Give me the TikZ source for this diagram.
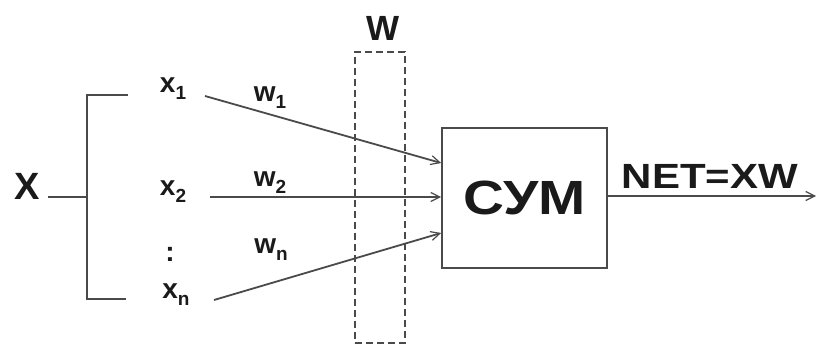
\documentclass[tikz,border=0pt]{standalone}
\usepackage{fontspec}
\setmainfont{Liberation Sans}
\usetikzlibrary{arrows.meta}
\definecolor{ln}{HTML}{4A4A4A}
\definecolor{tx}{HTML}{1A1A1A}
\newcommand\sbs[1]{\raisebox{-0.25em}{\fontsize{19}{19}\selectfont #1}}
\tikzset{
  lbl/.style={inner sep=0pt, text=tx, font=\fontsize{28}{28}\selectfont\bfseries},
  big/.style={inner sep=0pt, text=tx, font=\fontsize{35}{35}\selectfont\bfseries},
  wire/.style={draw=ln, line width=1.8pt},
  arr/.style={wire, -{Straight Barb[length=9pt,width=9pt,line width=1.2pt]}},
}
\begin{document}
\begin{tikzpicture}[x=1pt,y=-1pt]
\useasboundingbox (0,0) rectangle (817,347);
% labels
\node[big, font=\fontsize{38}{38}\selectfont\bfseries] (X) at (27,186) {X};
\node[lbl] (x1) at (173,89) {x\sbs{1}};
\node[lbl] (x2) at (173,192) {x\sbs{2}};
\node[lbl] (dots) at (170,254) {:};
\node[lbl] (xn) at (176,295) {x\sbs{n}};
\node[lbl] (w1) at (270,98) {w\sbs{1}};
\node[lbl] (w2) at (270,183) {w\sbs{2}};
\node[lbl] (wn) at (271,250) {w\sbs{n}};
\node[big] (W) at (383,28) {W};
% bracket
\coordinate (bt) at (128,95);
\coordinate (bb) at (126,299);
\coordinate (bj) at (87,197);
\coordinate (xs) at (48,197);
\draw[wire] (bt) -- (87,95) -- (87,299) -- (bb);
\draw[wire] (xs) -- (bj);
% dashed W box
\node[draw=ln, line width=1.8pt, dash pattern=on 7pt off 4pt, minimum width=50pt, minimum height=291pt, inner sep=0pt] (Wbox) at (380,197.5) {};
% sum box
\node[draw=ln, line width=1.8pt, minimum width=165pt, minimum height=140pt, inner sep=0pt,
      font=\fontsize{48}{48}\selectfont\bfseries, text=tx] (sum) at (524.5,198) {\scalebox{1.18}[1]{СУМ}};
% connectors
\coordinate (s1) at (205,96);
\coordinate (s2) at (210,197);
\coordinate (sn) at (214,300);
\draw[arr] (s1) -- ([yshift=35pt]sum.west);
\draw[arr] (s2) -- ([yshift=1pt]sum.west);
\draw[arr] (sn) -- ([yshift=-35pt]sum.west);
\coordinate (out) at (816,196);
\draw[arr] ([yshift=2pt]sum.east) -- (out);
\node[big] (net) at (710,176) {\scalebox{1.2}[1]{NET=XW}};
\end{tikzpicture}
\end{document}
